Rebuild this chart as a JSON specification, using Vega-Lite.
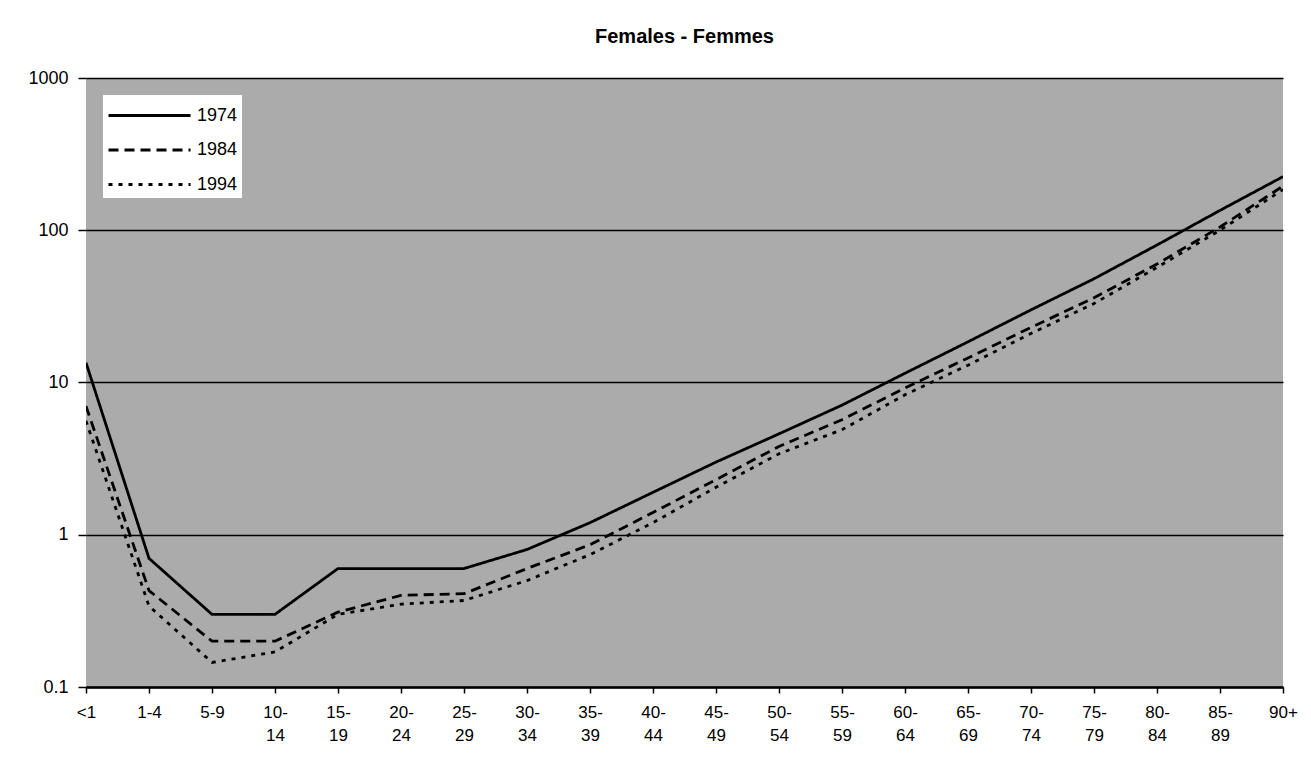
{
  "$schema": "https://vega.github.io/schema/vega-lite/v6.json",
  "width": 1197,
  "height": 609,
  "autosize": {"type": "none"},
  "padding": {"left": 86, "top": 78, "right": 28, "bottom": 72},
  "background": "white",
  "title": {
    "text": "Females - Femmes",
    "font": "Liberation Sans",
    "fontSize": 20,
    "fontWeight": "bold",
    "color": "black",
    "anchor": "middle",
    "offset": 22
  },
  "config": {
    "view": {"fill": "#ababab", "stroke": null},
    "font": "Liberation Sans"
  },
  "data": {
    "values": [
      {"age": "<1", "year": "1974", "rate": 13.5},
      {"age": "1-4", "year": "1974", "rate": 0.7},
      {"age": "5-9", "year": "1974", "rate": 0.3},
      {"age": "10-14", "year": "1974", "rate": 0.3},
      {"age": "15-19", "year": "1974", "rate": 0.6},
      {"age": "20-24", "year": "1974", "rate": 0.6},
      {"age": "25-29", "year": "1974", "rate": 0.6},
      {"age": "30-34", "year": "1974", "rate": 0.8},
      {"age": "35-39", "year": "1974", "rate": 1.2},
      {"age": "40-44", "year": "1974", "rate": 1.9},
      {"age": "45-49", "year": "1974", "rate": 3.0},
      {"age": "50-54", "year": "1974", "rate": 4.6},
      {"age": "55-59", "year": "1974", "rate": 7.1},
      {"age": "60-64", "year": "1974", "rate": 11.5},
      {"age": "65-69", "year": "1974", "rate": 18.5},
      {"age": "70-74", "year": "1974", "rate": 30},
      {"age": "75-79", "year": "1974", "rate": 48},
      {"age": "80-84", "year": "1974", "rate": 80},
      {"age": "85-89", "year": "1974", "rate": 135},
      {"age": "90+", "year": "1974", "rate": 225},
      {"age": "<1", "year": "1984", "rate": 7},
      {"age": "1-4", "year": "1984", "rate": 0.43},
      {"age": "5-9", "year": "1984", "rate": 0.2},
      {"age": "10-14", "year": "1984", "rate": 0.2},
      {"age": "15-19", "year": "1984", "rate": 0.31},
      {"age": "20-24", "year": "1984", "rate": 0.4},
      {"age": "25-29", "year": "1984", "rate": 0.41},
      {"age": "30-34", "year": "1984", "rate": 0.6},
      {"age": "35-39", "year": "1984", "rate": 0.86},
      {"age": "40-44", "year": "1984", "rate": 1.4},
      {"age": "45-49", "year": "1984", "rate": 2.3},
      {"age": "50-54", "year": "1984", "rate": 3.8},
      {"age": "55-59", "year": "1984", "rate": 5.7},
      {"age": "60-64", "year": "1984", "rate": 9.2},
      {"age": "65-69", "year": "1984", "rate": 14.5},
      {"age": "70-74", "year": "1984", "rate": 23},
      {"age": "75-79", "year": "1984", "rate": 36},
      {"age": "80-84", "year": "1984", "rate": 60},
      {"age": "85-89", "year": "1984", "rate": 105},
      {"age": "90+", "year": "1984", "rate": 195},
      {"age": "<1", "year": "1994", "rate": 5.6},
      {"age": "1-4", "year": "1994", "rate": 0.34},
      {"age": "5-9", "year": "1994", "rate": 0.145},
      {"age": "10-14", "year": "1994", "rate": 0.17},
      {"age": "15-19", "year": "1994", "rate": 0.3},
      {"age": "20-24", "year": "1994", "rate": 0.35},
      {"age": "25-29", "year": "1994", "rate": 0.37},
      {"age": "30-34", "year": "1994", "rate": 0.5},
      {"age": "35-39", "year": "1994", "rate": 0.74},
      {"age": "40-44", "year": "1994", "rate": 1.2},
      {"age": "45-49", "year": "1994", "rate": 2.05},
      {"age": "50-54", "year": "1994", "rate": 3.4},
      {"age": "55-59", "year": "1994", "rate": 4.9},
      {"age": "60-64", "year": "1994", "rate": 8.3},
      {"age": "65-69", "year": "1994", "rate": 13},
      {"age": "70-74", "year": "1994", "rate": 21},
      {"age": "75-79", "year": "1994", "rate": 33},
      {"age": "80-84", "year": "1994", "rate": 57},
      {"age": "85-89", "year": "1994", "rate": 100},
      {"age": "90+", "year": "1994", "rate": 185}
    ]
  },
  "mark": {"type": "line", "color": "black", "strokeWidth": 2.8, "clip": true},
  "encoding": {
    "x": {
      "field": "age",
      "type": "ordinal",
      "sort": null,
      "scale": {"type": "point", "padding": 0},
      "axis": {
        "title": null,
        "labelAngle": 0,
        "labelFont": "Liberation Sans",
        "labelFontSize": 17,
        "labelColor": "black",
        "labelPadding": 11,
        "labelLineHeight": 23,
        "labelBaseline": "top",
        "labelExpr": "length(datum.value) > 3 ? [slice(datum.value, 0, 3), slice(datum.value, 3)] : datum.value",
        "domainColor": "black",
        "domainWidth": 2.5,
        "tickColor": "black",
        "tickWidth": 1.5,
        "tickSize": 6,
        "grid": false
      }
    },
    "y": {
      "field": "rate",
      "type": "quantitative",
      "scale": {"type": "log", "domain": [0.1, 1000], "nice": false},
      "axis": {
        "title": null,
        "values": [0.1, 1, 10, 100, 1000],
        "format": "~g",
        "labelFont": "Liberation Sans",
        "labelFontSize": 18,
        "labelColor": "black",
        "labelPadding": 10,
        "domain": false,
        "tickColor": "black",
        "tickWidth": 1.5,
        "tickSize": 8,
        "grid": true,
        "gridColor": "black",
        "gridWidth": 1.6,
        "gridOpacity": 1
      }
    },
    "strokeDash": {
      "field": "year",
      "type": "nominal",
      "scale": {"domain": ["1974", "1984", "1994"], "range": [[1, 0], [10, 6], [4, 6]]},
      "legend": {
        "title": null,
        "orient": "none",
        "legendX": 17,
        "legendY": 17,
        "fillColor": "white",
        "padding": 4,
        "symbolType": "M-1,0H4.47",
        "symbolSize": 900,
        "symbolStrokeColor": "black",
        "symbolStrokeWidth": 2.8,
        "symbolFillColor": "transparent",
        "labelFont": "Liberation Sans",
        "labelFontSize": 18,
        "labelColor": "black",
        "labelOffset": 57,
        "rowPadding": 8.5
      }
    }
  }
}
